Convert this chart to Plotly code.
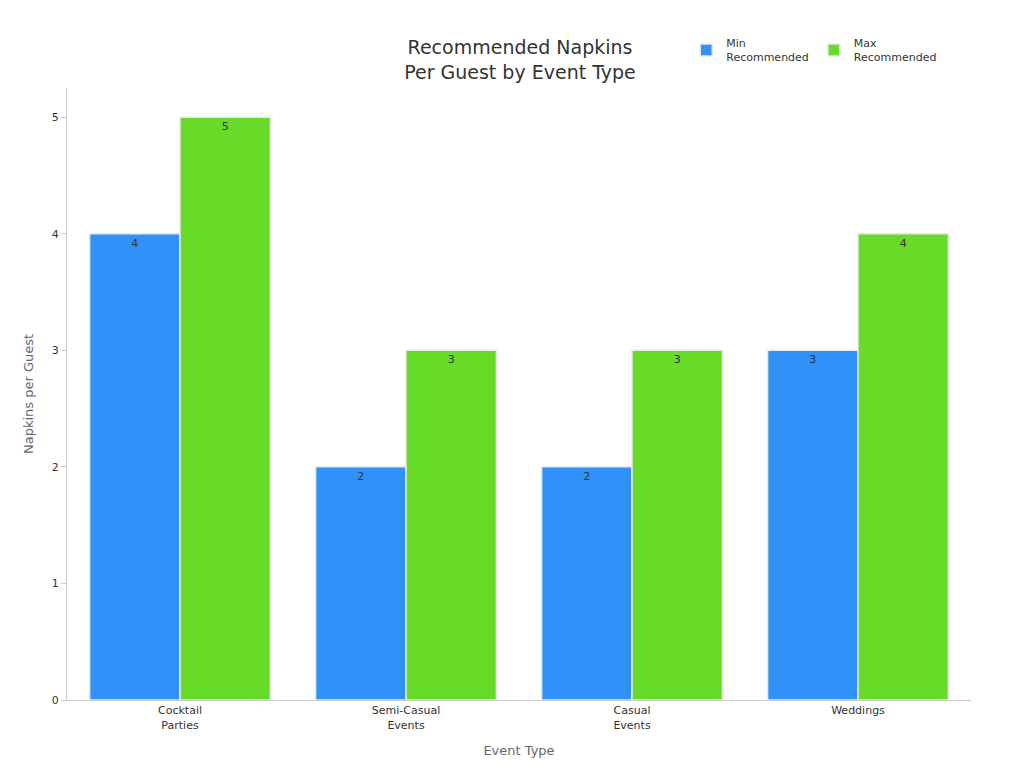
import plotly.graph_objects as go

categories = ["Cocktail<br>Parties", "Semi-Casual<br>Events", "Casual<br>Events", "Weddings"]
min_rec = [4, 2, 2, 3]
max_rec = [5, 3, 3, 4]

fig = go.Figure()
fig.add_trace(go.Bar(
    x=categories, y=min_rec, name="Min<br>Recommended",
    marker=dict(color="#3092f8", line=dict(color="#e8e8e8", width=1.5)),
    text=min_rec, textposition="inside", insidetextanchor="end",
    textfont=dict(color="#333333", size=11),
))
fig.add_trace(go.Bar(
    x=categories, y=max_rec, name="Max<br>Recommended",
    marker=dict(color="#68db28", line=dict(color="#e8e8e8", width=1.5)),
    text=max_rec, textposition="inside", insidetextanchor="end",
    textfont=dict(color="#333333", size=11),
))

fig.update_layout(
    width=1024, height=768,
    template="plotly_white",
    font=dict(family="DejaVu Sans", color="#333333", size=11),
    title=dict(text="Recommended Napkins<br>Per Guest by Event Type", x=0.5, xanchor="center",
               y=0.94, yanchor="middle", font=dict(size=19, color="#333333")),
    barmode="group", bargap=0.2, bargroupgap=0,
    margin=dict(l=59, r=61, t=80, b=76, autoexpand=False),
    legend=dict(orientation="h", x=0.685, y=0.945, xref="paper", yref="container",
                xanchor="left", yanchor="middle", font=dict(size=11)),
    xaxis=dict(title=dict(text="Event Type", font=dict(size=13, color="#666666")),
               showline=True, linecolor="#cccccc", showgrid=False, automargin=False),
    yaxis=dict(title=dict(text="Napkins per Guest", font=dict(size=13, color="#666666")),
               range=[0, 5.25], dtick=1, showgrid=False, showline=True, linecolor="#cccccc",
               ticks="outside", ticklen=5, tickcolor="#cccccc", zeroline=False, automargin=False),
    plot_bgcolor="white",
)
fig.write_html("out.html")
